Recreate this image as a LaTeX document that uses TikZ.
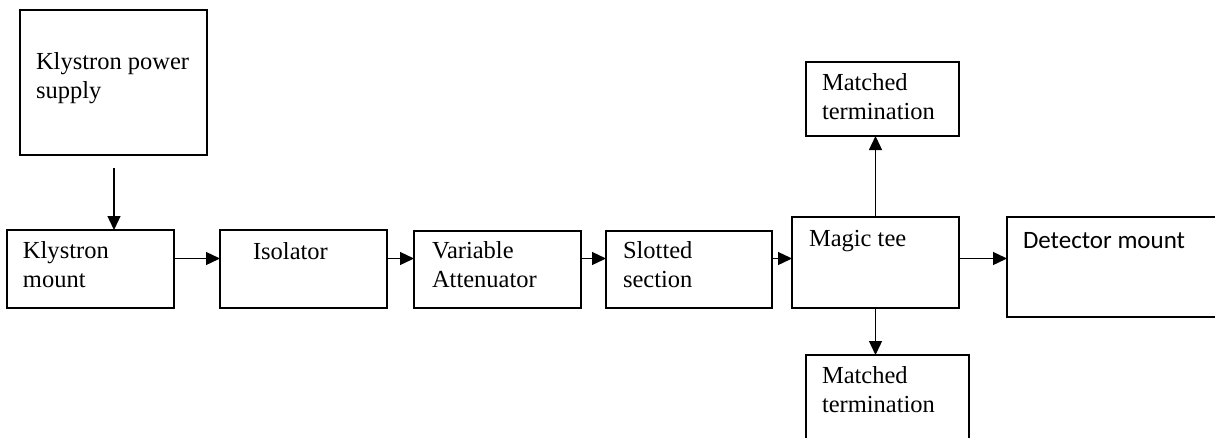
\documentclass[tikz,border=0pt]{standalone}
\usepackage{fontspec}
\setmainfont{Liberation Serif}
\newfontfamily\calibrifont{Carlito}
\usetikzlibrary{arrows.meta}
\begin{document}
\begin{tikzpicture}[x=1pt,y=-1pt,
  blk/.style={draw, line width=1.3pt, rectangle, inner sep=0pt, outer sep=0pt},
  lbl/.style={anchor=base west, inner sep=0pt, outer sep=0pt, align=left,
              font=\fontsize{24.5}{28.5}\selectfont},
  flow/.style={line width=1.3pt, -{Triangle[length=14pt,width=13pt]}}]
  \useasboundingbox (0,0) rectangle (1215,437);
  \clip (0,0) rectangle (1215,437);

  % blocks
  \node[blk, minimum width=187pt, minimum height=145pt] (kps)  at (113.5,82.5) {};
  \node[blk, minimum width=167pt, minimum height=78pt]  (km)   at (90.5,269)   {};
  \node[blk, minimum width=167pt, minimum height=78pt]  (iso)  at (303.5,269)  {};
  \node[blk, minimum width=167pt, minimum height=77pt]  (att)  at (497.5,269.5) {};
  \node[blk, minimum width=166pt, minimum height=77pt]  (slot) at (689,269.5)  {};
  \node[blk, minimum width=167pt, minimum height=91pt]  (tee)  at (875.5,262.5) {};
  \node[blk, minimum width=153pt, minimum height=74pt]  (mtop) at (882.5,99)   {};
  \node[blk, minimum width=163pt, minimum height=110pt] (mbot) at (887.5,410)  {};
  \node[blk, minimum width=253pt, minimum height=100pt] (det)  at (1133.5,267) {};

  % labels (base anchor = baseline of the last line)
  \node[lbl] (tkps) at (36,98)   {Klystron power\\supply};
  \node[lbl] (tkm)  at (23,287)  {Klystron\\mount};
  \node[lbl] (tiso) at (253,259) {Isolator};
  \node[lbl] (tatt) at (432,287) {Variable\\Attenuator};
  \node[lbl] (tslt) at (623,287) {Slotted\\section};
  \node[lbl] (ttee) at (809,246) {Magic tee};
  \node[lbl] (tmt)  at (822,119) {Matched\\termination};
  \node[lbl] (tmb)  at (822,412) {Matched\\termination};
  \node[lbl, font=\calibrifont\fontsize{25}{30}\selectfont] (tdet) at (1023,248) {Detector mount};

  % connectors
  \coordinate (row) at (0,258.5);
  \coordinate (feed) at (114,168);
  \draw[flow] (feed) -- (feed |- km.north);
  \draw[flow] (km.east |- row)   -- (iso.west |- row);
  \draw[flow] (iso.east |- row)  -- (att.west |- row);
  \draw[flow] (att.east |- row)  -- (slot.west |- row);
  \draw[flow] (slot.east |- row) -- (tee.west |- row);
  \draw[flow] (tee.east |- row)  -- (det.west |- row);
  \draw[flow] (tee.north) -- (tee.north |- mtop.south);
  \draw[flow] (tee.south) -- (tee.south |- mbot.north);
\end{tikzpicture}
\end{document}
